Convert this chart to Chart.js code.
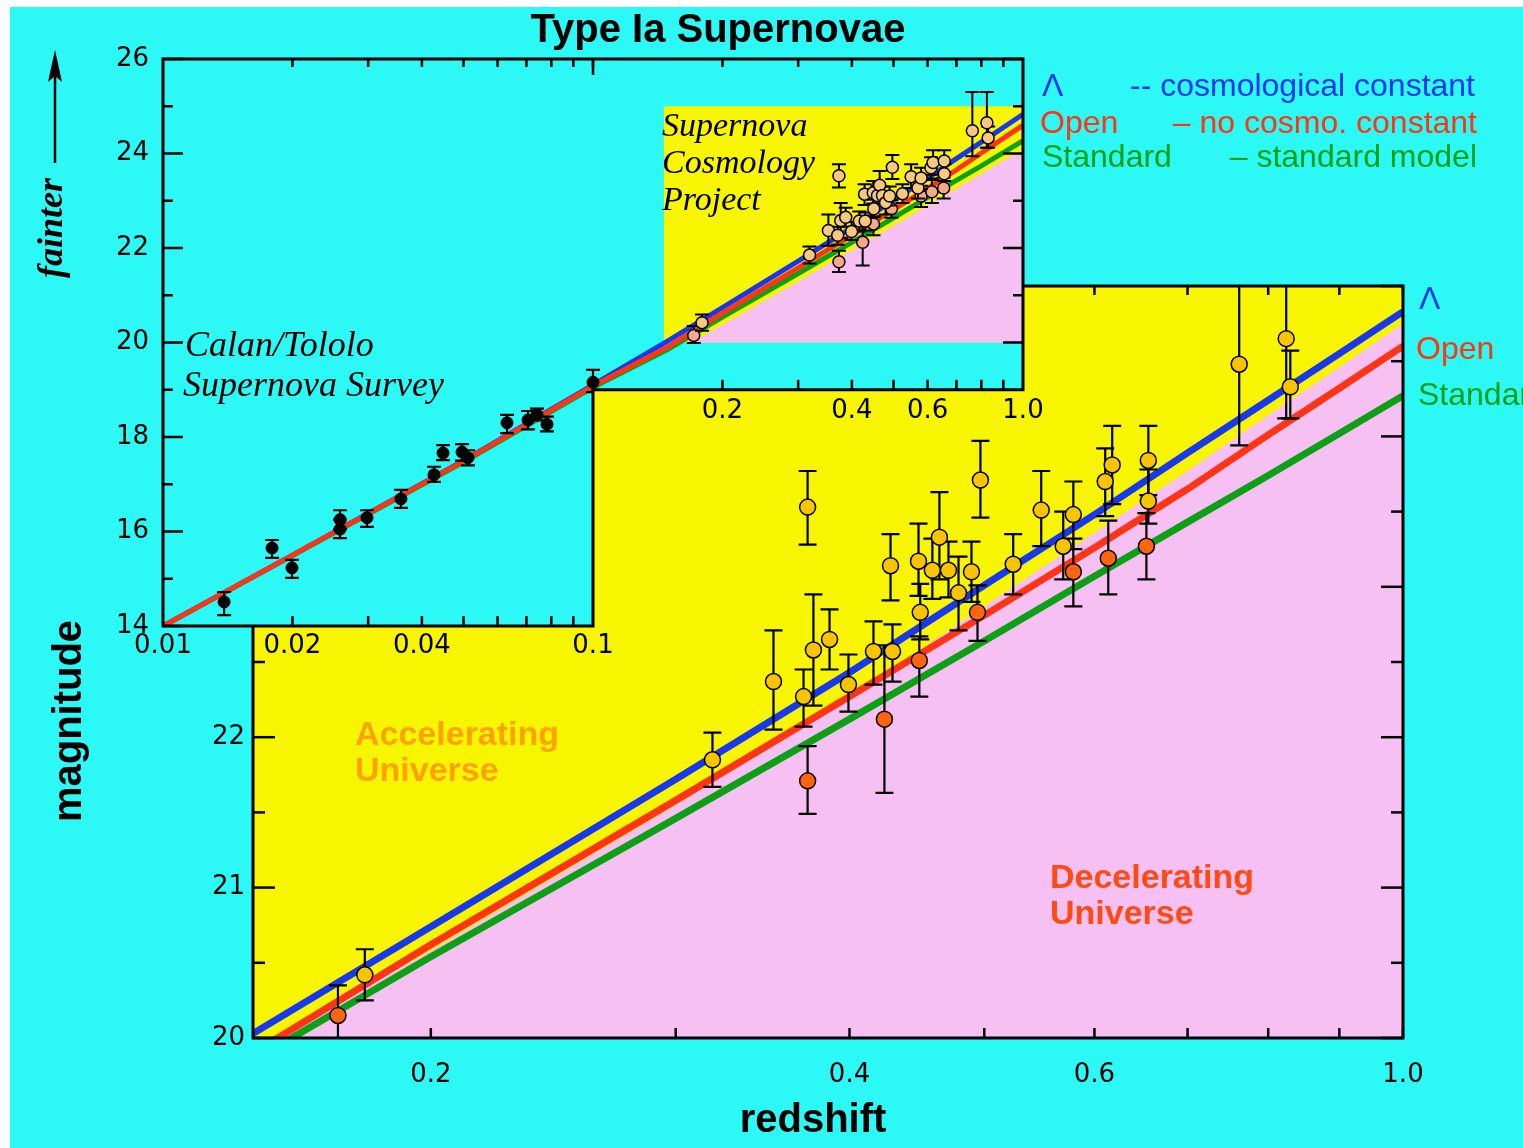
<!DOCTYPE html>
<html><head><meta charset="utf-8">
<style>
html,body{margin:0;padding:0;background:#fff;overflow:hidden;}
#wrap{position:relative;width:1523px;height:1148px;overflow:hidden;background:#fff;}
#bg{position:absolute;left:10px;top:7px;right:0;bottom:0;background:#2cf8f6;}
canvas{position:absolute;left:0;top:0;width:1523px;height:1148px;}
</style>
<script src="https://cdn.jsdelivr.net/npm/chart.js@4.4.1/dist/chart.umd.min.js"></script>
</head><body>
<div id="wrap"><div id="bg"></div>
<canvas id="main" width="1523" height="1148"></canvas>
<canvas id="inset" width="1523" height="1148"></canvas>
</div>
<script>
// ---------------- DATA ----------------
// theory curves (redshift, magnitude)
const lineZ        = [0.01, 0.02, 0.05, 0.1, 0.149, 0.2, 0.3, 0.4, 0.5, 0.6, 0.7, 0.8, 0.9, 1.0];
const lambdaMag    = [14.0, 15.5, 17.5, 19.1, 20.03, 20.74, 21.72, 22.43, 23.01, 23.48, 23.89, 24.24, 24.55, 24.83];
const openMag      = [14.0, 15.5, 17.49, 19.08, 19.90, 20.62, 21.58, 22.27, 22.81, 23.26, 23.65, 24.01, 24.32, 24.60];
const standardMag  = [14.0, 15.49, 17.47, 19.05, 19.85, 20.54, 21.46, 22.12, 22.64, 23.07, 23.43, 23.74, 24.02, 24.27];
// accelerating / decelerating boundary (main plot)
const boundaryZ    = [0.146, 0.2, 0.3, 0.4, 0.5, 0.6, 0.7, 0.8, 0.9, 1.0];
const boundaryMag  = [19.87, 20.58, 21.55, 22.26, 22.87, 23.36, 23.77, 24.14, 24.46, 24.75];
// boundary as drawn in the inset
const insetBoundaryZ   = [0.170, 0.2, 0.3, 0.4, 0.5, 0.6, 0.7, 0.8, 0.9, 1.0];
const insetBoundaryMag = [20.0, 20.37, 21.29, 21.95, 22.47, 22.90, 23.26, 23.57, 23.85, 24.07];
// shaded box in inset (redshift range, magnitude range)
const insetShadeZ   = [0.146, 1.0];
const insetShadeMag = [20, 25];

// Supernova Cosmology Project - yellow points
const scpYellowZ   = [0.1793,0.3188,0.3527,0.3707,0.3732,0.3768,0.3870,0.3993,0.4162,0.4281,0.4295,0.4484,0.4497,0.4588,0.4642,0.4712,0.4791,0.4895,0.4968,0.5245,0.5494,0.5698,0.5794,0.6108,0.6179,0.6560,0.6560,0.7625,0.8242,0.8298];
const scpYellowMag = [20.42,21.85,22.37,22.27,23.53,22.58,22.65,22.35,22.57,23.14,22.57,23.17,22.83,23.11,23.33,23.11,22.96,23.10,23.71,23.15,23.51,23.27,23.48,23.70,23.81,23.84,23.57,24.48,24.65,24.33];
const scpYellowHi  = [20.59,22.03,22.71,22.45,23.77,22.95,22.85,22.55,22.77,23.35,22.75,23.42,23.02,23.32,23.63,23.30,23.20,23.30,23.97,23.35,23.77,23.50,23.70,23.92,24.07,24.07,23.78,25.30,25.30,24.57];
const scpYellowLo  = [20.25,21.67,22.05,22.07,23.28,22.21,22.45,22.17,22.35,22.91,22.37,22.94,22.65,22.92,23.05,22.93,22.71,22.90,23.46,22.95,23.27,23.05,23.25,23.47,23.55,23.61,23.42,23.94,24.12,24.12];
// Supernova Cosmology Project - orange points
const scpOrangeZ   = [0.1715,0.3732,0.4238,0.4490,0.4944,0.5794,0.6139,0.6539];
const scpOrangeMag = [20.15,21.71,22.12,22.51,22.83,23.10,23.19,23.27];
const scpOrangeHi  = [20.35,21.94,22.61,22.67,23.01,23.32,23.44,23.49];
const scpOrangeLo  = [19.99,21.49,21.63,22.27,22.64,22.87,22.95,23.05];
// Calan/Tololo low-redshift points
const calanZ   = [0.01387,0.01793,0.01995,0.02581,0.0258,0.02981,0.03576,0.04268,0.04479,0.04960,0.05121,0.06310,0.07063,0.07409,0.07817,0.1000];
const calanMag = [14.51,15.65,15.23,16.25,16.05,16.29,16.69,17.20,17.66,17.68,17.56,18.30,18.36,18.47,18.27,19.16];
const calanHi  = [14.72,15.82,15.40,16.45,16.25,16.45,16.88,17.37,17.83,17.85,17.72,18.47,18.55,18.60,18.43,19.42];
const calanLo  = [14.23,15.44,15.02,16.05,15.86,16.10,16.50,17.05,17.51,17.50,17.40,18.08,18.16,18.35,18.12,18.95];

// axis ticks
const mainXTicks = [0.2, 0.4, 0.6, 1.0];
const mainXTickLabels = ['0.2', '0.4', '0.6', '1.0'];
const mainXMarks = [0.2, 0.3, 0.4, 0.5, 0.6, 0.7, 0.8, 0.9, 1.0];
const mainYTicks = [20, 21, 22, 23, 24, 25];
const mainYTickLabels = ['20', '21', '22', '23', '24', '25'];
const mainYMinor = [20.5, 21.5, 22.5, 23.5, 24.5];
const insetXTicks = [0.01, 0.02, 0.04, 0.1];
const insetXTickLabels = ['0.01', '0.02', '0.04', '0.1'];
const insetX2Ticks = [0.2, 0.4, 0.6, 1.0];
const insetX2TickLabels = ['0.2', '0.4', '0.6', '1.0'];
const insetXMarksLow = [0.02,0.03,0.04,0.05,0.06,0.07,0.08,0.09];
const insetXMarksHigh = [0.2,0.3,0.4,0.5,0.6,0.7,0.8,0.9];
const insetYTicks = [14, 16, 18, 20, 22, 24, 26];
const insetYTickLabels = ['14', '16', '18', '20', '22', '24', '26'];
const insetYMinor = [15, 17, 19, 21, 23, 25];
const insetCorner = {z: 0.1, mag: 19};

// ---------------- STYLE ----------------
const CYAN = '#2cf8f6', YELLOW = '#f7f500', PINK = '#f6c0f3';
const BLUE = '#1838f0', RED = '#ff3414', GREEN = '#0ca014';
const GOLD = '#f8c400', ORANGE = '#ff6410', PEACH = '#f8c880', SALMON = '#f8a888';
const TICKFONT = {family: 'DejaVu Sans', size: 26};

const pts = (xs, ys) => xs.map((x, i) => ({x: x, y: ys[i]}));
const labelFor = (vals, labels) => (v) => { const i = vals.findIndex(t => Math.abs(t - v) < 1e-9); return i >= 0 ? labels[i] : ''; };

const ERR = {
  mainYellow: {hi: scpYellowHi, lo: scpYellowLo, cap: 9, lw: 2.2},
  mainOrange: {hi: scpOrangeHi, lo: scpOrangeLo, cap: 9, lw: 2.2},
  insetYellow: {hi: scpYellowHi, lo: scpYellowLo, cap: 7, lw: 2},
  insetOrange: {hi: scpOrangeHi, lo: scpOrangeLo, cap: 7, lw: 2},
  calan: {hi: calanHi, lo: calanLo, cap: 7, lw: 2.2}
};

const errorBars = {
  id: 'errorBars',
  beforeDatasetDraw(chart, args) {
    const ds = chart.data.datasets[args.index];
    const eb = ERR[ds.label];
    if (!eb) return;
    const ctx = chart.ctx, a = chart.chartArea, xs = chart.scales.x, ys = chart.scales.y;
    ctx.save();
    ctx.beginPath(); ctx.rect(a.left, a.top, a.right - a.left, a.bottom - a.top); ctx.clip();
    ctx.strokeStyle = '#000'; ctx.lineWidth = eb.lw;
    ds.data.forEach((p, i) => {
      const px = xs.getPixelForValue(p.x);
      const y1 = ys.getPixelForValue(eb.hi[i]), y2 = ys.getPixelForValue(eb.lo[i]);
      ctx.beginPath();
      ctx.moveTo(px, y1); ctx.lineTo(px, y2);
      ctx.moveTo(px - eb.cap, y1); ctx.lineTo(px + eb.cap, y1);
      ctx.moveTo(px - eb.cap, y2); ctx.lineTo(px + eb.cap, y2);
      ctx.stroke();
    });
    ctx.restore();
  }
};

function xMarks(ctx, xs, vals, yEdge, len) {
  vals.forEach(v => { const px = xs.getPixelForValue(v); ctx.beginPath(); ctx.moveTo(px, yEdge); ctx.lineTo(px, yEdge + len); ctx.stroke(); });
}
function yMarks(ctx, ys, vals, xEdge, len) {
  vals.forEach(v => { const py = ys.getPixelForValue(v); ctx.beginPath(); ctx.moveTo(xEdge, py); ctx.lineTo(xEdge + len, py); ctx.stroke(); });
}

const mainDecor = {
  id: 'mainDecor',
  beforeDatasetsDraw(chart) {
    const ctx = chart.ctx, a = chart.chartArea;
    ctx.save(); ctx.fillStyle = YELLOW; ctx.fillRect(a.left, a.top, a.right - a.left, a.bottom - a.top); ctx.restore();
  },
  afterDatasetsDraw(chart) {
    const ctx = chart.ctx, a = chart.chartArea, xs = chart.scales.x, ys = chart.scales.y;
    ctx.save();
    ctx.strokeStyle = '#000'; ctx.lineWidth = 2.5;
    xMarks(ctx, xs, mainXMarks, a.bottom, -10);
    xMarks(ctx, xs, mainXMarks, a.top, 9);
    yMarks(ctx, ys, mainYTicks, a.left, 22);
    yMarks(ctx, ys, mainYMinor, a.left, 12);
    yMarks(ctx, ys, mainYTicks, a.right, -22);
    yMarks(ctx, ys, mainYMinor, a.right, -12);
    ctx.lineWidth = 3;
    ctx.strokeRect(a.left, a.top, a.right - a.left, a.bottom - a.top);
    ctx.restore();
  }
};

function lPath(chart) {
  const a = chart.chartArea, cx = chart.scales.x.getPixelForValue(insetCorner.z), cy = chart.scales.y.getPixelForValue(insetCorner.mag);
  const ctx = chart.ctx;
  ctx.beginPath();
  ctx.moveTo(a.left, a.top); ctx.lineTo(a.right, a.top); ctx.lineTo(a.right, cy);
  ctx.lineTo(cx, cy); ctx.lineTo(cx, a.bottom); ctx.lineTo(a.left, a.bottom); ctx.closePath();
}

function txt(ctx, s, x, y, font, color, align) {
  ctx.font = font; ctx.fillStyle = color; ctx.textAlign = align || 'left'; ctx.textBaseline = 'middle';
  ctx.fillText(s, x, y);
}

const insetDecor = {
  id: 'insetDecor',
  beforeDraw(chart) {
    const ctx = chart.ctx;
    ctx.save(); lPath(chart); ctx.fillStyle = CYAN; ctx.fill(); ctx.restore();
  },
  beforeDatasetsDraw(chart) {
    const ctx = chart.ctx; ctx.save(); lPath(chart); ctx.clip();
  },
  afterDatasetsDraw(chart) {
    const ctx = chart.ctx, a = chart.chartArea, xs = chart.scales.x, ys = chart.scales.y;
    ctx.restore();
    const cx = xs.getPixelForValue(insetCorner.z), cy = ys.getPixelForValue(insetCorner.mag);
    ctx.save();
    ctx.strokeStyle = '#000'; ctx.lineWidth = 2.5;
    xMarks(ctx, xs, insetXMarksLow.concat([0.1], insetXMarksHigh), a.top, 8);
    xMarks(ctx, xs, [0.1], a.top, 16);
    xMarks(ctx, xs, insetXMarksLow, a.bottom, -10);
    xMarks(ctx, xs, insetXMarksHigh, cy, -10);
    yMarks(ctx, ys, insetYTicks, a.left, 20);
    yMarks(ctx, ys, insetYMinor, a.left, 10);
    yMarks(ctx, ys, insetYTicks.filter(v => v > insetCorner.mag), a.right, -20);
    yMarks(ctx, ys, insetYMinor.filter(v => v > insetCorner.mag), a.right, -10);
    ctx.lineWidth = 3; lPath(chart); ctx.stroke();
    // second x axis labels (lower right part)
    insetX2Ticks.forEach((v, i) => txt(ctx, insetX2TickLabels[i], xs.getPixelForValue(v), cy + 21, '26px "DejaVu Sans"', '#000', 'center'));
    ctx.restore();
  },
  afterDraw(chart) {
    const ctx = chart.ctx;
    ctx.save();
    txt(ctx, 'Type Ia Supernovae', 718, 31, 'bold 40px "Liberation Sans"', '#000', 'center');
    txt(ctx, 'redshift', 813, 1121, 'bold 40px "Liberation Sans"', '#000', 'center');
    ctx.save(); ctx.translate(70, 721); ctx.rotate(-Math.PI / 2);
    txt(ctx, 'magnitude', 0, 0, 'bold 40px "Liberation Sans"', '#000', 'center'); ctx.restore();
    ctx.save(); ctx.translate(53, 228); ctx.rotate(-Math.PI / 2);
    txt(ctx, 'fainter', 0, 0, 'italic bold 36px "Liberation Serif"', '#000', 'center'); ctx.restore();
    // arrow
    ctx.strokeStyle = '#000'; ctx.lineWidth = 2.5;
    ctx.beginPath(); ctx.moveTo(55, 163); ctx.lineTo(55, 70); ctx.stroke();
    ctx.fillStyle = '#000'; ctx.beginPath(); ctx.moveTo(55, 50); ctx.lineTo(62, 82); ctx.lineTo(55, 76); ctx.lineTo(48, 82); ctx.closePath(); ctx.fill();
    // annotations
    txt(ctx, 'Calan/Tololo', 185, 347, 'italic 36px "Liberation Serif"', '#000');
    txt(ctx, 'Supernova Survey', 183, 387, 'italic 36px "Liberation Serif"', '#000');
    txt(ctx, 'Supernova', 662, 127, 'italic 34px "Liberation Serif"', '#000');
    txt(ctx, 'Cosmology', 662, 164, 'italic 34px "Liberation Serif"', '#000');
    txt(ctx, 'Project', 662, 201, 'italic 34px "Liberation Serif"', '#000');
    txt(ctx, 'Accelerating', 355, 736, 'bold 34px "Liberation Sans"', '#ffa200');
    txt(ctx, 'Universe', 355, 772, 'bold 34px "Liberation Sans"', '#ffa200');
    txt(ctx, 'Decelerating', 1050, 879, 'bold 34px "Liberation Sans"', '#ff4a12');
    txt(ctx, 'Universe', 1050, 915, 'bold 34px "Liberation Sans"', '#ff4a12');
    // legend
    const LF = '32px "Liberation Sans"';
    txt(ctx, '\u039B', 1042, 87, LF, BLUE);
    txt(ctx, '-- cosmological constant', 1475, 87, LF, BLUE, 'right');
    txt(ctx, 'Open', 1040, 124, LF, RED);
    txt(ctx, '\u2013 no cosmo. constant', 1477, 124, LF, RED, 'right');
    txt(ctx, 'Standard', 1042, 158, LF, GREEN);
    txt(ctx, '\u2013 standard model', 1477, 158, LF, GREEN, 'right');
    txt(ctx, '\u039B', 1419, 300, LF, BLUE);
    txt(ctx, 'Open', 1416, 350, LF, RED);
    txt(ctx, 'Standard', 1418, 396, LF, GREEN);
    ctx.restore();
  }
};

const lineDs = (label, ys, color, w, order) => ({label: label, data: pts(lineZ, ys), showLine: true, borderColor: color, borderWidth: w, pointRadius: 0, fill: false, order: order, tension: 0});

// ---------------- MAIN CHART ----------------
new Chart(document.getElementById('main'), {
  type: 'scatter',
  data: {datasets: [
    {label: 'mainBoundary', data: pts(boundaryZ, boundaryMag), showLine: true, borderWidth: 0, borderColor: 'rgba(0,0,0,0)', pointRadius: 0, fill: {value: 20}, backgroundColor: PINK, order: 10},
    lineDs('Standard', standardMag, GREEN, 7, 9),
    lineDs('\u039B', lambdaMag, BLUE, 7, 8),
    lineDs('Open', openMag, RED, 7, 7),
    {label: 'mainOrange', data: pts(scpOrangeZ, scpOrangeMag), pointRadius: 8, pointBackgroundColor: ORANGE, pointBorderColor: '#000', pointBorderWidth: 1.5, order: 2},
    {label: 'mainYellow', data: pts(scpYellowZ, scpYellowMag), pointRadius: 8, pointBackgroundColor: GOLD, pointBorderColor: '#000', pointBorderWidth: 1.5, order: 1}
  ]},
  options: {
    responsive: false, animation: false, devicePixelRatio: 1,
    layout: {padding: {left: 0, top: 286, right: 120, bottom: 0}},
    plugins: {legend: {display: false}, tooltip: {enabled: false}, title: {display: false}},
    scales: {
      x: {type: 'logarithmic', min: 0.149, max: 1.0,
          afterFit: s => { s.height = 110; },
          afterBuildTicks: s => { s.ticks = mainXTicks.map(v => ({value: v})); },
          ticks: {callback: labelFor(mainXTicks, mainXTickLabels), font: TICKFONT, color: '#000', padding: 22, autoSkip: false, maxRotation: 0, minRotation: 0},
          grid: {display: false, drawTicks: false}, border: {display: false}},
      y: {type: 'linear', min: 20, max: 25,
          afterFit: s => { s.width = 253; },
          afterBuildTicks: s => { s.ticks = mainYTicks.map(v => ({value: v})); },
          ticks: {callback: labelFor(mainYTicks, mainYTickLabels), font: TICKFONT, color: '#000', padding: 8, autoSkip: false},
          grid: {display: false, drawTicks: false}, border: {display: false}}
    }
  },
  plugins: [errorBars, mainDecor]
});

// ---------------- INSET CHART ----------------
new Chart(document.getElementById('inset'), {
  type: 'scatter',
  data: {datasets: [
    {label: 'insetShade', data: [{x: insetShadeZ[0], y: insetShadeMag[1]}, {x: insetShadeZ[1], y: insetShadeMag[1]}], showLine: true, borderWidth: 0, borderColor: 'rgba(0,0,0,0)', pointRadius: 0, fill: {value: insetShadeMag[0]}, backgroundColor: YELLOW, order: 20},
    {label: 'insetBoundary', data: pts(insetBoundaryZ, insetBoundaryMag).concat([{x: 1.0, y: insetShadeMag[0]}]), showLine: true, borderWidth: 0, borderColor: 'rgba(0,0,0,0)', pointRadius: 0, fill: {value: insetShadeMag[0]}, backgroundColor: PINK, order: 19},
    lineDs('Standard', standardMag, GREEN, 5, 9),
    lineDs('\u039B', lambdaMag, BLUE, 5, 8),
    lineDs('Open', openMag, RED, 5, 7),
    {label: 'insetOrange', data: pts(scpOrangeZ, scpOrangeMag), pointRadius: 6, pointBackgroundColor: SALMON, pointBorderColor: '#000', pointBorderWidth: 1.5, order: 3},
    {label: 'insetYellow', data: pts(scpYellowZ, scpYellowMag), pointRadius: 6, pointBackgroundColor: PEACH, pointBorderColor: '#000', pointBorderWidth: 1.5, order: 2},
    {label: 'calan', data: pts(calanZ, calanMag), pointRadius: 6, pointBackgroundColor: '#000', pointBorderColor: '#000', pointBorderWidth: 1, order: 1}
  ]},
  options: {
    responsive: false, animation: false, devicePixelRatio: 1,
    layout: {padding: {left: 0, top: 59, right: 500, bottom: 0}},
    plugins: {legend: {display: false}, tooltip: {enabled: false}, title: {display: false}},
    scales: {
      x: {type: 'logarithmic', min: 0.01, max: 1.0,
          afterFit: s => { s.height = 1148 - 626; },
          afterBuildTicks: s => { s.ticks = insetXTicks.map(v => ({value: v})); },
          ticks: {callback: labelFor(insetXTicks, insetXTickLabels), font: TICKFONT, color: '#000', padding: 5, autoSkip: false, maxRotation: 0, minRotation: 0},
          grid: {display: false, drawTicks: false}, border: {display: false}},
      y: {type: 'linear', min: 14, max: 26,
          afterFit: s => { s.width = 163; },
          afterBuildTicks: s => { s.ticks = insetYTicks.map(v => ({value: v})); },
          ticks: {callback: labelFor(insetYTicks, insetYTickLabels), font: TICKFONT, color: '#000', padding: 14, autoSkip: false},
          grid: {display: false, drawTicks: false}, border: {display: false}}
    }
  },
  plugins: [errorBars, insetDecor]
});
</script>
</body></html>
